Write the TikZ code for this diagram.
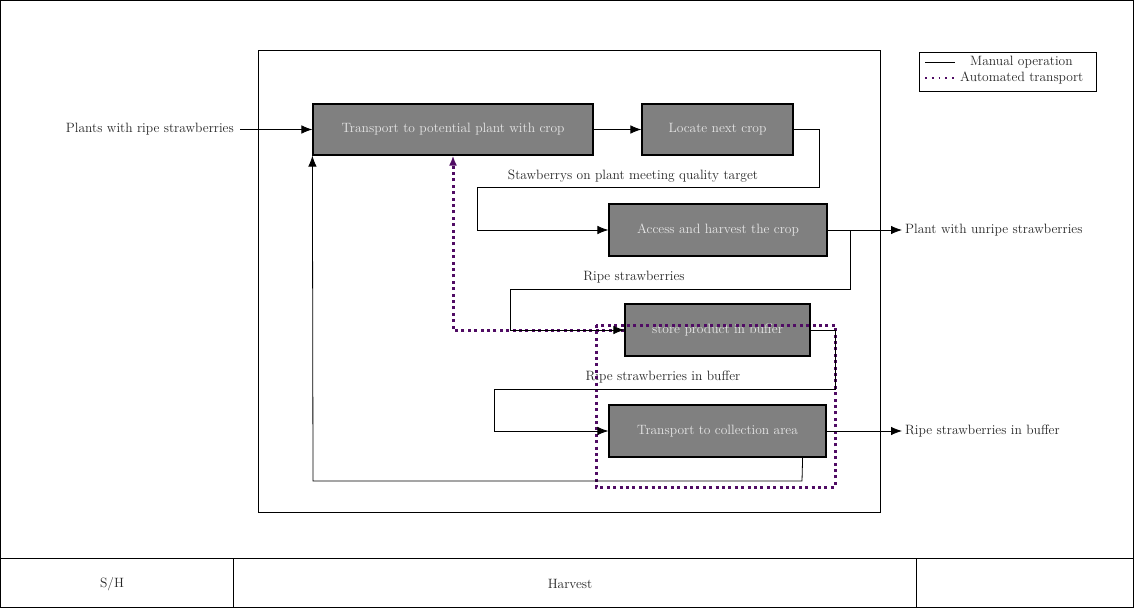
\documentclass[tikz,border=0pt]{standalone}
\usetikzlibrary{arrows.meta}
\definecolor{autopurple}{RGB}{80,12,100}
\definecolor{boxtext}{RGB}{230,230,230}
\begin{document}
\begin{tikzpicture}[x=1pt,y=-1pt,
  font=\fontsize{13.5}{16}\selectfont,
  procbox/.style={draw=black,line width=1.2pt,fill=gray,text=boxtext,inner sep=0pt},
  conn/.style={draw=black,line width=0.8pt},
  arr/.style={conn,-{Latex[length=11pt,width=8.5pt]}},
  autoline/.style={draw=autopurple,line width=3pt,dash pattern=on 3pt off 3.4pt},
  autoarr/.style={autoline,-{Latex[length=10pt,width=8pt]}},
  lbl/.style={inner sep=0pt,text=black!85},
  frame/.style={draw=black,line width=1pt}
]
\useasboundingbox (0,0) rectangle (1134,608);
% outer frame and title block
\draw[frame] (0.6,0.6) rectangle (1133.4,607.4);
\draw[frame] (0,558) -- (1134,558);
\draw[frame] (233,558) -- (233,608);
\draw[frame] (916,558) -- (916,608);
\node[lbl] (sh) at (112,584) {S/H};
\node[lbl] (harvest) at (570,584) {Harvest};
% inner frame
\draw[frame] (258,50) rectangle (880,512);
% process boxes
\node[procbox,minimum width=280pt,minimum height=51pt] (b1) at (453,129.5) {Transport to potential plant with crop};
\node[procbox,minimum width=151pt,minimum height=51pt] (b2) at (717.5,129.5) {Locate next crop};
\node[procbox,minimum width=218pt,minimum height=52pt] (b3) at (718,230) {Access and harvest the crop};
\node[procbox,minimum width=185pt,minimum height=52pt] (b4) at (717.5,330) {store product in buffer};
\node[procbox,minimum width=217pt,minimum height=52pt] (b5) at (717.5,431) {Transport to collection area};
% external labels
\node[lbl,anchor=east] (in) at (234,129.5) {Plants with ripe strawberries};
\node[lbl,anchor=west] (out1) at (905,230) {Plant with unripe strawberries};
\node[lbl,anchor=west] (out2) at (905,431) {Ripe strawberries in buffer};
% flow labels
\node[lbl] (l1) at (633,176) {Stawberrys on plant meeting quality target};
\node[lbl] (l2) at (634,277) {Ripe strawberries};
\node[lbl] (l3) at (663,377) {Ripe strawberries in buffer};
% automated transport
\draw[autoarr] (b4.west) -- (453,330) -- (b1.south);
\draw[autoline] (596,325) rectangle (835,487);
% manual connectors
\draw[arr] ([xshift=6pt]in.east) -- (b1.west);
\draw[arr] (b1.east) -- (b2.west);
\draw[arr] (b2.east) -- (819,129.5) -- (819,187) -- (477,187) -- (477,230) -- (b3.west);
\draw[arr] (b3.east) -- ([xshift=-3pt]out1.west);
\draw[arr] (b3.east) -- (850,230) -- (850,289) -- (510,289) -- (510,330) -- (b4.west);
\draw[arr] (b4.east) -- (835,330) -- (835,389) -- (494,389) -- (494,431) -- (b5.west);
\draw[arr] (b5.east) -- ([xshift=-3pt]out2.west);
\draw[arr] ([xshift=-24pt]b5.south east) -- (802,481) -- (313,481) -- (b1.south west);
% legend
\node[draw=black,line width=0.8pt,minimum width=177pt,minimum height=39pt,inner sep=0pt] (leg) at (1007.5,71.5) {};
\coordinate (m1) at (925,62);
\coordinate (m2) at (955,62);
\coordinate (a1) at (925,78);
\coordinate (a2) at (955,78);
\draw[conn] (m1) -- (m2);
\draw[draw=autopurple,line width=1.8pt,dash pattern=on 1.8pt off 5pt] (a1) -- (a2);
\node[lbl,anchor=west] (legm) at (970,62) {Manual operation};
\node[lbl,anchor=west] (lega) at (960,78) {Automated transport};
\end{tikzpicture}
\end{document}
